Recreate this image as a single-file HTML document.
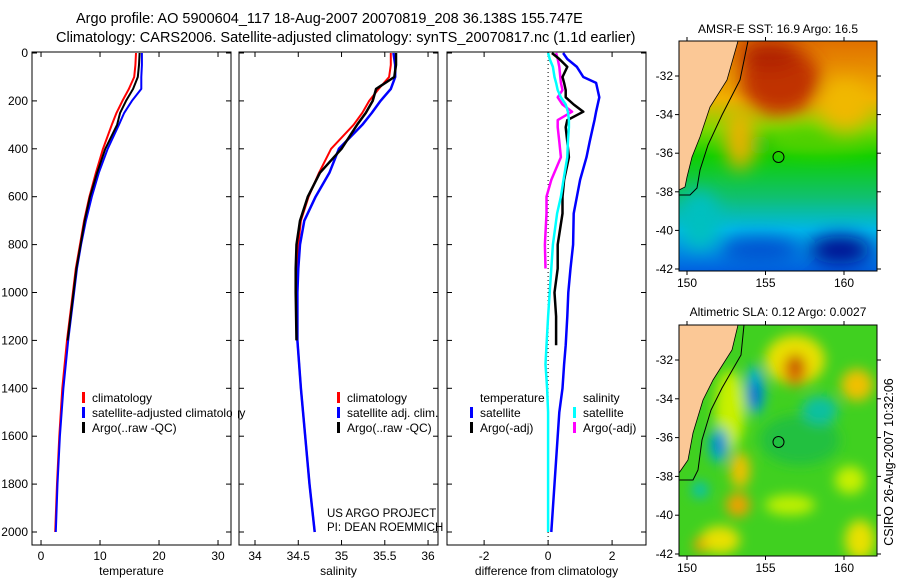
<!DOCTYPE html>
<html><head><meta charset="utf-8"><style>
html,body{margin:0;padding:0;background:#fff;}
svg{display:block;font-family:"Liberation Sans",sans-serif;}
</style></head><body>
<svg id="fig" width="900" height="580" viewBox="0 0 900 580" xmlns="http://www.w3.org/2000/svg">
<defs>
<filter id="bl" x="-50%" y="-50%" width="200%" height="200%"><feGaussianBlur stdDeviation="9"/></filter>
<filter id="bl2" x="-50%" y="-50%" width="200%" height="200%"><feGaussianBlur stdDeviation="6"/></filter>
<linearGradient id="sstg" x1="0" y1="0" x2="0" y2="1">
<stop offset="0" stop-color="#e07000"/><stop offset="0.25" stop-color="#f0b000"/><stop offset="0.38" stop-color="#80d800"/><stop offset="0.5" stop-color="#10d000"/><stop offset="0.68" stop-color="#10c070"/><stop offset="0.82" stop-color="#00b8e8"/><stop offset="1" stop-color="#0060e0"/></linearGradient>
<clipPath id="c1"><rect x="679" y="41" width="198" height="230"/></clipPath>
<clipPath id="c2"><rect x="679" y="325" width="198" height="231"/></clipPath>
</defs>
<text x="76" y="23" font-size="14.5">Argo profile: AO 5900604_117 18-Aug-2007 20070819_208 36.138S 155.747E</text>
<text x="56" y="42" font-size="14.5">Climatology: CARS2006. Satellite-adjusted climatology: synTS_20070817.nc (1.1d earlier)</text>
<g id="panels"></g>

<!-- SST map -->
<g>
<text x="778" y="33" font-size="12" text-anchor="middle">AMSR-E SST: 16.9 Argo: 16.5</text>
<g clip-path="url(#c1)">
<rect x="679" y="41" width="198" height="230" fill="url(#sstg)"/>
<g filter="url(#bl)">
<ellipse cx="780" cy="80" rx="40" ry="35" fill="#c03000"/>
<ellipse cx="770" cy="55" rx="30" ry="15" fill="#b02000"/>
<ellipse cx="845" cy="105" rx="25" ry="25" fill="#f0b800"/>
<ellipse cx="740" cy="140" rx="14" ry="30" fill="#f0b000"/>
<ellipse cx="820" cy="140" rx="50" ry="12" fill="#50d000"/>
<ellipse cx="760" cy="145" rx="12" ry="10" fill="#10c010"/>
<ellipse cx="840" cy="250" rx="30" ry="14" fill="#001090"/>
<ellipse cx="760" cy="250" rx="40" ry="12" fill="#0050d0"/>
<ellipse cx="700" cy="220" rx="20" ry="30" fill="#00c0c0"/>
</g>
<polygon points="679,41 738,41 727,80 710,107 700,137 692,157 687,177 685,187 679,190" fill="#fbc896" stroke="#000" stroke-width="0.8"/>
<polyline points="748,41 740,80 722,115 708,145 700,170 697,188 690,195 679,195" fill="none" stroke="#000" stroke-width="1"/>
</g>
<circle cx="778.5" cy="157" r="5.5" fill="none" stroke="#000" stroke-width="1"/>
<rect x="679" y="41" width="198" height="230" fill="none" stroke="#000"/>
<g id="m1ticks"></g>
</g>

<!-- SLA map -->
<g>
<text x="778" y="316" font-size="12" text-anchor="middle">Altimetric SLA: 0.12 Argo: 0.0027</text>
<g clip-path="url(#c2)">
<rect x="679" y="325" width="198" height="231" fill="#40d020"/>
<g filter="url(#bl2)">
<ellipse cx="730" cy="410" rx="15" ry="40" fill="#c8f000"/>
<ellipse cx="795" cy="360" rx="30" ry="25" fill="#e8e000"/>
<ellipse cx="795" cy="370" rx="12" ry="16" fill="#e08000"/>
<ellipse cx="796" cy="365" rx="6" ry="10" fill="#c05000"/>
<ellipse cx="857" cy="385" rx="16" ry="16" fill="#f0c000"/>
<ellipse cx="755" cy="390" rx="10" ry="25" fill="#00b0d0"/>
<ellipse cx="755" cy="395" rx="5" ry="14" fill="#0050d0"/>
<ellipse cx="719" cy="445" rx="10" ry="18" fill="#00b0d0"/>
<ellipse cx="719" cy="445" rx="4" ry="9" fill="#0050d0"/>
<ellipse cx="700" cy="490" rx="8" ry="8" fill="#00c0c0"/>
<ellipse cx="740" cy="470" rx="10" ry="18" fill="#f0c000"/>
<ellipse cx="738" cy="505" rx="12" ry="12" fill="#f0a000"/>
<ellipse cx="800" cy="440" rx="40" ry="25" fill="#20c040"/>
<ellipse cx="820" cy="410" rx="18" ry="14" fill="#10c0a0"/>
<ellipse cx="720" cy="540" rx="20" ry="14" fill="#e8e000"/>
<ellipse cx="700" cy="545" rx="6" ry="8" fill="#f0a000"/>
<ellipse cx="850" cy="480" rx="15" ry="14" fill="#c8f000"/>
<ellipse cx="790" cy="505" rx="25" ry="10" fill="#c0f000"/>
<ellipse cx="860" cy="540" rx="15" ry="20" fill="#e8e000"/>
</g>
<polygon points="679,325 738,325 732,350 713,380 703,400 693,433 688,460 679,473" fill="#fbc896" stroke="#000" stroke-width="0.8"/>
<polyline points="744,325 741,355 722,388 711,410 702,440 698,470 693,480 679,480" fill="none" stroke="#000" stroke-width="1"/>
</g>
<circle cx="778.5" cy="442" r="5.5" fill="#20c040" stroke="#000" stroke-width="1"/>
<rect x="679" y="325" width="198" height="231" fill="none" stroke="#000"/>
<g id="m2ticks"></g>
</g>
<text transform="translate(893,462) rotate(-90)" font-size="12.5" text-anchor="middle">CSIRO 26-Aug-2007 10:32:06</text>
<text x="327" y="517" font-size="11.5">US ARGO PROJECT</text>
<text x="327" y="531" font-size="11.5">PI: DEAN ROEMMICH</text>
</svg>
<script>
const depths = [0,50,100,150,200,250,300,400,500,600,700,800,900,1000,1200,1400,1600,1800,2000];
const tClim = [16.1,16.0,15.8,14.9,13.8,12.8,12.0,10.5,9.3,8.2,7.3,6.6,5.9,5.4,4.4,3.6,3.1,2.7,2.4];
const tSat = [17.1,17.1,17.0,17.0,15.4,14.1,13.2,11.3,9.8,8.6,7.6,6.8,6.1,5.6,4.6,3.8,3.2,2.8,2.5];
const tArgo = [16.7,16.6,16.4,15.6,14.4,13.4,12.9,10.9,9.5,8.3,7.4,6.7,6.0,5.5,4.5];
const sClim = [35.57,35.57,35.55,35.43,35.32,35.24,35.14,34.88,34.74,34.62,34.53,34.50,34.49,34.48,34.49,34.53,34.58,34.63,34.69];
const sSat = [35.60,35.62,35.62,35.57,35.45,35.35,35.24,34.97,34.86,34.70,34.57,34.52,34.50,34.49,34.49,34.53,34.58,34.63,34.69];
const sArgo = [35.63,35.63,35.61,35.40,35.36,35.28,35.18,35.00,34.75,34.61,34.52,34.48,34.47,34.47,34.48];
const diffDepths = [0,25,58,100,125,155,185,215,245,280,310,370,435,530,600,670,800,900,1000,1100,1220,1300,1400,1500,1600,1800,2000];
const tDiffSat = [0.47,0.6,0.9,1.1,1.5,1.55,1.6,1.55,1.5,1.45,1.4,1.3,1.2,1.0,0.9,0.8,0.78,0.7,0.63,0.6,0.55,0.5,0.45,0.35,0.3,0.2,0.1];
const tDiffArgo = [0.12,0.35,0.6,0.45,0.5,0.55,0.55,0.8,1.1,0.6,0.55,0.6,0.65,0.5,0.45,0.45,0.3,0.3,0.2,0.25,0.25];
const sDiffSat = [0,0.05,0.15,0.2,0.25,0.3,0.4,0.55,0.62,0.65,0.65,0.62,0.6,0.48,0.4,0.28,0.15,0.1,0.05,0.0,-0.05,-0.08,-0.03,0.0,0.0,0.0,0.0];
const sDiffArgo = [0.25,0.3,0.35,0.38,0.4,0.45,0.3,0.45,0.75,0.3,0.3,0.35,0.4,0.1,-0.05,-0.05,-0.1,-0.08];
const depthTicks = [0,200,400,600,800,1000,1200,1400,1600,1800,2000];
const tTicks = [0,10,20,30];
const sTicks = [34,34.5,35,35.5,36];
const dTicks = [-2,0,2];
const lonTicks = [150,155,160];
const latTicks = [32,34,36,38,40,42];

const NS='http://www.w3.org/2000/svg';
const root=document.getElementById('panels');
function el(tag,attrs,parent){const e=document.createElementNS(NS,tag);for(const k in attrs)e.setAttribute(k,attrs[k]);(parent||root).appendChild(e);return e;}
const PT=52, PB=545;
const yS = d => 53 + d*0.2395;
const panels = [
 {x0:32,x1:231,vmin:-1.53,vmax:32.2,ticks:tTicks,label:'temperature',name:'temperature-panel'},
 {x0:239,x1:438,vmin:33.815,vmax:36.115,ticks:sTicks,label:'salinity',name:'salinity-panel'},
 {x0:447,x1:646,vmin:-3.16,vmax:3.06,ticks:dTicks,label:'difference from climatology',name:'difference-panel'}
];
panels.forEach(p=>{p.sx=v=>p.x0+(v-p.vmin)/(p.vmax-p.vmin)*(p.x1-p.x0);});
panels.forEach((p,i)=>{
 const g=el('g',{});
 
 
 p.g=g;
 const r=el('rect',{x:p.x0,y:PT,width:p.x1-p.x0,height:PB-PT,fill:'none',stroke:'#000'},g);
 
 
 p.ticks.forEach(t=>{
  const x=p.sx(t);
  el('line',{x1:x,x2:x,y1:PT,y2:PT+5,stroke:'#000'},g);
  el('line',{x1:x,x2:x,y1:PB,y2:PB-5,stroke:'#000'},g);
  const tx=el('text',{x:x,y:PB+15,'font-size':12,'text-anchor':'middle'},g);
  tx.textContent=String(t);
  
  
 });
 depthTicks.forEach(d=>{
  const y=yS(d);
  el('line',{x1:p.x0,x2:p.x0+5,y1:y,y2:y,stroke:'#000'},g);
  el('line',{x1:p.x1,x2:p.x1-5,y1:y,y2:y,stroke:'#000'},g);
  if(i===0){const tx=el('text',{x:28,y:y+4,'font-size':12,'text-anchor':'end'},g);tx.textContent=String(d);
   
   }
 });
 const xl=el('text',{x:(p.x0+p.x1)/2,y:575,'font-size':12,'text-anchor':'middle'},g);
 xl.textContent=p.label;
 
 
});
function line(p,vals,deps,color,w,name){
 const pts=vals.map((v,k)=>p.sx(v).toFixed(1)+','+yS(deps[k]).toFixed(1)).join(' ');
 const l=el('polyline',{points:pts,fill:'none',stroke:color,'stroke-width':w,'stroke-linejoin':'round'},p.g);
 
 
}
line(panels[0],tClim,depths,'#f00',2,'temp-climatology-line');
line(panels[0],tSat,depths,'#00f',2,'temp-satellite-line');
line(panels[0],tArgo,depths,'#000',2,'temp-argo-line');
line(panels[1],sClim,depths,'#f00',2,'sal-climatology-line');
line(panels[1],sSat,depths,'#00f',2.5,'sal-satellite-line');
line(panels[1],sArgo,depths,'#000',2.5,'sal-argo-line');
const zl=el('line',{x1:panels[2].sx(0),x2:panels[2].sx(0),y1:PT,y2:PB,stroke:'#000','stroke-dasharray':'1,3'},panels[2].g);


line(panels[2],sDiffArgo,diffDepths,'#f0f',2.5,'sal-diff-argo-line');
line(panels[2],tDiffSat,diffDepths,'#00f',2.5,'temp-diff-satellite-line');
line(panels[2],tDiffArgo,diffDepths,'#000',2.5,'temp-diff-argo-line');
line(panels[2],sDiffSat,diffDepths,'#0ff',2.5,'sal-diff-satellite-line');

function legend(x,y,entries,name){
 const g=el('g',{});
 
 
 entries.forEach((e,k)=>{
  const yy=y+k*15;
  if(e[1]){const b=el('rect',{x:x,y:yy-10,width:3,height:11,fill:e[1]},g);
   
   }
  const t=el('text',{x:x+10,y:yy,'font-size':12},g);t.textContent=e[0];
  
  
 });
}
legend(82,402,[['climatology','#f00'],['satellite-adjusted climatology','#00f'],['Argo(..raw -QC)','#000']],'temperature-legend');
legend(337,402,[['climatology','#f00'],['satellite adj. clim.','#00f'],['Argo(..raw -QC)','#000']],'salinity-legend');
legend(470,402,[['temperature',null],['satellite','#00f'],['Argo(-adj)','#000']],'diff-temp-legend');
legend(573,402,[['salinity',null],['satellite','#0ff'],['Argo(-adj)','#f0f']],'diff-sal-legend');
el('line',{x1:231,x2:231,y1:PT,y2:PB,stroke:'#000'});
el('rect',{x:232,y:388,width:6,height:45,fill:'#fff'});

function mapTicks(gid,top,bottom,lat32y,lat42y){
 const g=document.getElementById(gid);
 const lx=v=>687+(v-150)*15.7;
 const ly=v=>lat32y+(v-32)*(lat42y-lat32y)/10;
 lonTicks.forEach(v=>{const x=lx(v);
  el('line',{x1:x,x2:x,y1:top,y2:top-4,stroke:'#000'},g);
  el('line',{x1:x,x2:x,y1:bottom,y2:bottom+4,stroke:'#000'},g);
  const t=el('text',{x:x,y:bottom+16,'font-size':12,'text-anchor':'middle'},g);t.textContent=String(v);
  
  });
 latTicks.forEach(v=>{const y=ly(v);
  el('line',{x1:679,x2:675,y1:y,y2:y,stroke:'#000'},g);
  el('line',{x1:877,x2:881,y1:y,y2:y,stroke:'#000'},g);
  const t=el('text',{x:673,y:y+4,'font-size':12,'text-anchor':'end'},g);t.textContent='-'+v;
  
  });
}
mapTicks('m1ticks',41,271,76,269);
mapTicks('m2ticks',325,556,360,554);
</script>
</body></html>
